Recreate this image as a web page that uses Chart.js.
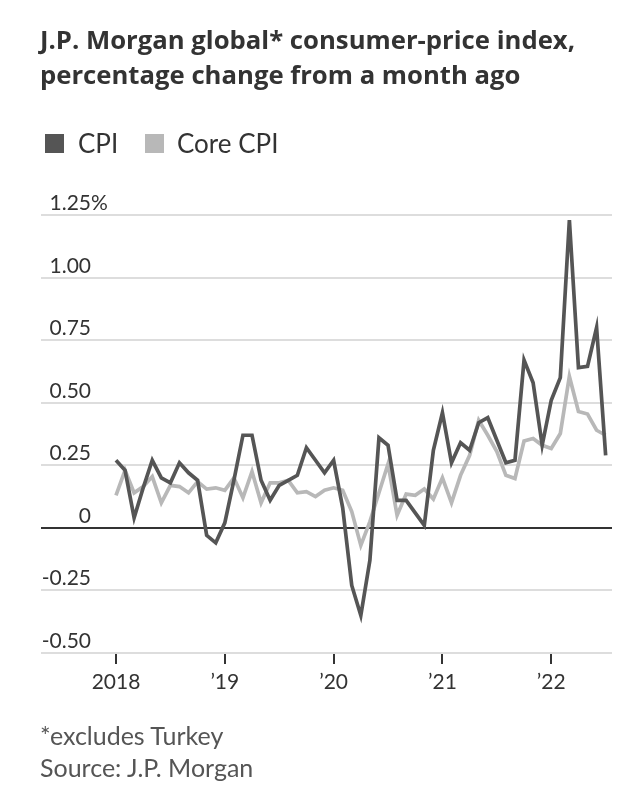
<!DOCTYPE html>
<html>
<head>
<meta charset="utf-8">
<script src="https://cdn.jsdelivr.net/npm/chart.js@4"></script>
<style>
  html, body { margin: 0; padding: 0; background: #fff; }
  #wrap { position: relative; width: 640px; height: 795px; overflow: hidden; }
  #grafico { position: absolute; left: 0; top: 0; }
  .txt { position: absolute; font-family: Lato, "Noto Sans", sans-serif; white-space: nowrap; }
  #titulo { left: 40px; top: 23px; font-family: "Open Sans", Lato, sans-serif; font-size: 25.7px; font-weight: 700; line-height: 34.5px; color: #333; }
  .sq { position: absolute; width: 19px; height: 19px; top: 134px; }
  .leg { top: 128px; font-size: 26px; line-height: 30px; color: #333; }
  #rodape { left: 40px; top: 719px; font-size: 25px; line-height: 32px; color: #555; }
</style>
</head>
<body>
<div id="wrap">
  <canvas id="grafico" width="640" height="795"></canvas>
  <div id="titulo" class="txt">J.P. Morgan global* consumer-price index,<br>percentage change from a month ago</div>
  <div class="sq" style="left:45px;background:#555;"></div>
  <div class="txt leg" style="left:78px;">CPI</div>
  <div class="sq" style="left:145px;background:#b8b8b8;"></div>
  <div class="txt leg" style="left:177px;">Core CPI</div>
  <div id="rodape" class="txt">*excludes Turkey<br>Source: J.P. Morgan</div>
</div>
<script>
// monthly, Jan 2018 - Jul 2022
const meses = [
  "2018-01","2018-02","2018-03","2018-04","2018-05","2018-06","2018-07","2018-08","2018-09","2018-10","2018-11","2018-12",
  "2019-01","2019-02","2019-03","2019-04","2019-05","2019-06","2019-07","2019-08","2019-09","2019-10","2019-11","2019-12",
  "2020-01","2020-02","2020-03","2020-04","2020-05","2020-06","2020-07","2020-08","2020-09","2020-10","2020-11","2020-12",
  "2021-01","2021-02","2021-03","2021-04","2021-05","2021-06","2021-07","2021-08","2021-09","2021-10","2021-11","2021-12",
  "2022-01","2022-02","2022-03","2022-04","2022-05","2022-06","2022-07"
];

const cpi = [
  0.27, 0.23, 0.04, 0.16, 0.27, 0.20, 0.18, 0.26, 0.22, 0.19, -0.03, -0.06,
  0.02, 0.19, 0.37, 0.37, 0.19, 0.11, 0.17, 0.19, 0.21, 0.32, 0.27, 0.22,
  0.27, 0.08, -0.23, -0.35, -0.13, 0.36, 0.33, 0.11, 0.11, 0.06, 0.01, 0.31,
  0.46, 0.26, 0.34, 0.31, 0.42, 0.44, 0.35, 0.26, 0.27, 0.67, 0.58, 0.33,
  0.51, 0.60, 1.23, 0.64, 0.645, 0.80, 0.29
];

const coreCpi = [
  0.13, 0.23, 0.14, 0.165, 0.205, 0.10, 0.17, 0.165, 0.14, 0.185, 0.155, 0.16,
  0.15, 0.20, 0.12, 0.225, 0.10, 0.18, 0.18, 0.19, 0.14, 0.145, 0.125, 0.15,
  0.16, 0.15, 0.065, -0.07, 0.025, 0.14, 0.255, 0.05, 0.135, 0.13, 0.155, 0.115,
  0.20, 0.10, 0.21, 0.29, 0.43, 0.37, 0.305, 0.21, 0.197, 0.347, 0.357, 0.33,
  0.317, 0.377, 0.605, 0.465, 0.455, 0.39, 0.37
];

const xTicks = [0, 12, 24, 36, 48];
const xLabels = ["2018", "\u201919", "\u201920", "\u201921", "\u201922"];
const yTicks = [-0.5, -0.25, 0, 0.25, 0.5, 0.75, 1, 1.25];
const yLabels = ["-0.50", "-0.25", "0", "0.25", "0.50", "0.75", "1.00", "1.25"];

const fonte = "Lato, 'Noto Sans', sans-serif";

// y labels sit above the gridlines, right-aligned
const rotulosY = {
  id: "rotulosY",
  beforeDatasetsDraw(chart) {
    const c = chart.ctx;
    const y = chart.scales.y;
    c.save();
    c.font = "21px " + fonte;
    c.fillStyle = "#333";
    c.textBaseline = "alphabetic";
    yTicks.forEach((v, i) => {
      const py = y.getPixelForValue(v) - 5;
      c.textAlign = "right";
      c.fillText(yLabels[i], 91, py);
      if (i === yTicks.length - 1) {
        c.textAlign = "left";
        c.fillText("%", 91, py);
      }
    });
    c.restore();
  }
};

new Chart(document.getElementById("grafico").getContext("2d"), {
  type: "line",
  data: {
    datasets: [
      {
        label: "CPI",
        data: cpi.map((v, i) => ({ x: i, y: v })),
        borderColor: "#555",
        borderWidth: 3.7,
        pointRadius: 0,
        tension: 0,
        clip: false,
        order: 0
      },
      {
        label: "Core CPI",
        data: coreCpi.map((v, i) => ({ x: i, y: v })),
        borderColor: "#b8b8b8",
        borderWidth: 3.7,
        pointRadius: 0,
        tension: 0,
        clip: false,
        order: 1
      }
    ]
  },
  options: {
    responsive: false,
    animation: false,
    layout: { padding: { left: 41, right: 28, top: 215, bottom: 97 } },
    plugins: { legend: { display: false }, tooltip: { enabled: false } },
    scales: {
      x: {
        type: "linear",
        min: -8.27,
        max: 54.7,
        afterBuildTicks: s => { s.ticks = xTicks.map(v => ({ value: v })); },
        afterFit: s => { s.height = 45; },
        border: { display: false },
        grid: { drawOnChartArea: false, drawTicks: true, tickLength: 11, color: "#333", lineWidth: 2 },
        ticks: {
          padding: 6,
          maxRotation: 0,
          autoSkip: false,
          color: "#333",
          font: { family: fonte, size: 21 },
          callback: v => xLabels[xTicks.indexOf(v)]
        }
      },
      y: {
        min: -0.5,
        max: 1.25,
        afterBuildTicks: s => { s.ticks = yTicks.map(v => ({ value: v })); },
        afterFit: s => { s.width = 0; },
        border: { display: false },
        grid: {
          drawTicks: false,
          color: c => (c.tick && c.tick.value === 0 ? "#333" : "#ddd"),
          lineWidth: 2
        },
        ticks: { display: false }
      }
    }
  },
  plugins: [rotulosY]
});
</script>
</body>
</html>
